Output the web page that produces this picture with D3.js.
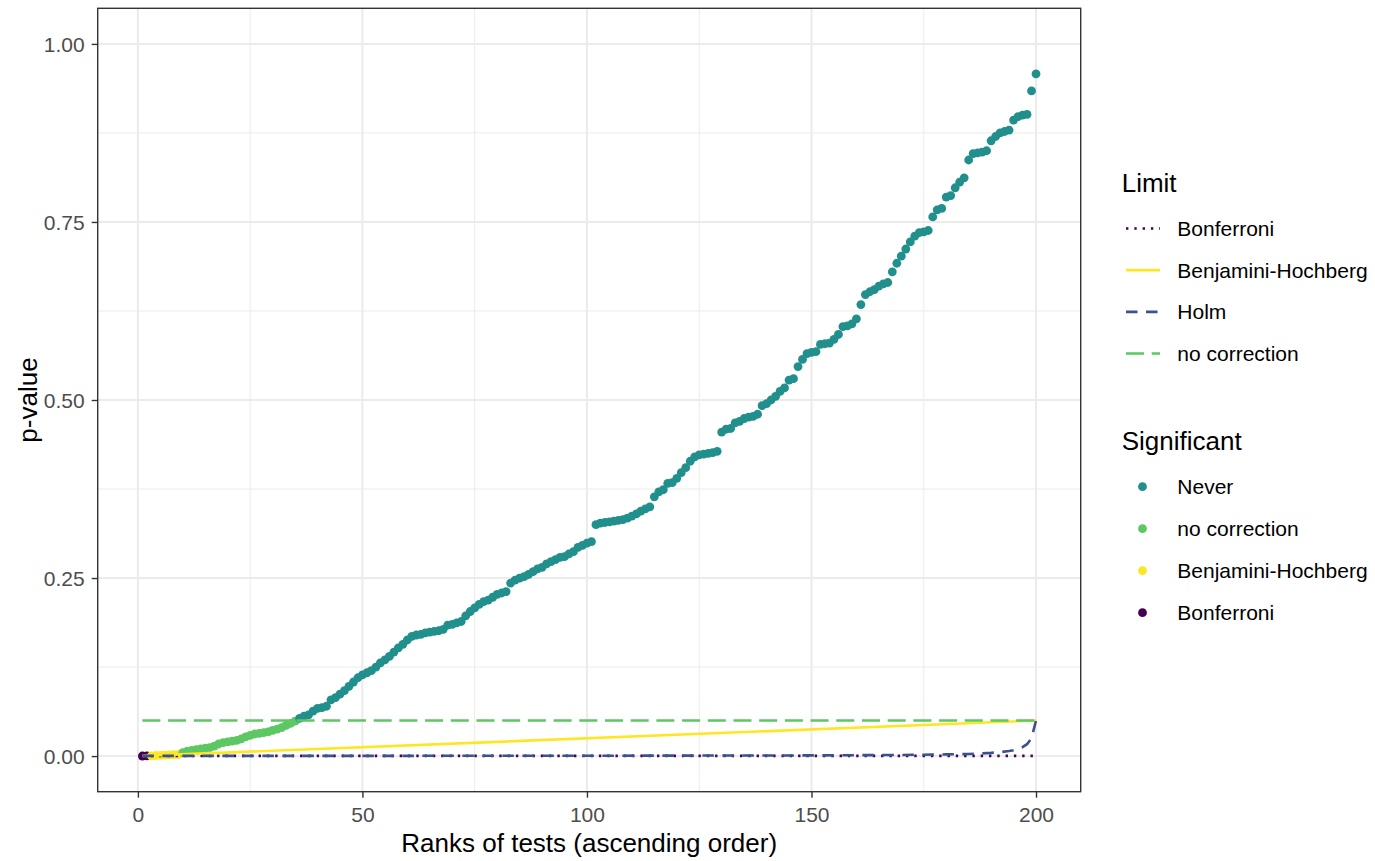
<!DOCTYPE html>
<html>
<head>
<meta charset="utf-8">
<script src="https://cdn.jsdelivr.net/npm/d3@7"></script>
<style>
  body { margin: 0; background: #fff; }
  text { font-family: "Liberation Sans", Arial, Helvetica, sans-serif; }
</style>
</head>
<body>
<div id="chart"></div>
<script>
// sorted p-values, rank 1..200
const pValues = [
  0.0001, 0.0002, 0.0004, 0.0008, 0.0011, 0.0013, 0.0016, 0.0019, 0.0022, 0.005,
  0.007, 0.008, 0.009, 0.010, 0.011, 0.012, 0.014, 0.017, 0.019, 0.020,
  0.021, 0.022, 0.024, 0.027, 0.029, 0.031, 0.032, 0.033, 0.034, 0.036,
  0.038, 0.040, 0.043, 0.046, 0.049, 0.053, 0.056, 0.058, 0.063, 0.067,
  0.068, 0.070, 0.079, 0.082, 0.087, 0.092, 0.098, 0.104, 0.110, 0.114,
  0.117, 0.120, 0.125, 0.131, 0.135, 0.140, 0.146, 0.152, 0.157, 0.163,
  0.168, 0.170, 0.171, 0.173, 0.174, 0.175, 0.176, 0.178, 0.184, 0.185,
  0.187, 0.189, 0.197, 0.203, 0.208, 0.213, 0.217, 0.219, 0.223, 0.227,
  0.229, 0.231, 0.243, 0.247, 0.250, 0.252, 0.255, 0.259, 0.263, 0.265,
  0.270, 0.273, 0.276, 0.279, 0.280, 0.284, 0.287, 0.293, 0.296, 0.299,
  0.301, 0.325, 0.327, 0.328, 0.329, 0.330, 0.331, 0.332, 0.334, 0.337,
  0.340, 0.344, 0.347, 0.350, 0.364, 0.371, 0.374, 0.383, 0.384, 0.390,
  0.398, 0.405, 0.414, 0.420, 0.423, 0.424, 0.425, 0.426, 0.428, 0.455,
  0.459, 0.460, 0.468, 0.470, 0.474, 0.476, 0.477, 0.480, 0.492, 0.495,
  0.500, 0.505, 0.512, 0.517, 0.528, 0.530, 0.547, 0.557, 0.565, 0.567,
  0.568, 0.578, 0.579, 0.580, 0.585, 0.592, 0.603, 0.604, 0.607, 0.614,
  0.634, 0.648, 0.652, 0.655, 0.660, 0.663, 0.665, 0.680, 0.692, 0.702,
  0.712, 0.722, 0.730, 0.735, 0.736, 0.738, 0.757, 0.767, 0.769, 0.785,
  0.787, 0.798, 0.806, 0.812, 0.837, 0.846, 0.847, 0.848, 0.850, 0.864,
  0.870, 0.875, 0.877, 0.879, 0.893, 0.898, 0.900, 0.901, 0.934, 0.958
];

// significance group of each rank, as coloured in the picture
const bonferroniCount = 2;    // ranks 1-2
const bhCount = 9;            // ranks 3-9
const noCorrectionCount = 35; // ranks 10-35

// limit lines
const bonfRanks = [1, 200];
const bonfLimit = [0.00025, 0.00025];
const bhRanks = [1, 200];
const bhLimit = [0.00025, 0.05];
const holmRanks = [1, 50, 100, 150, 170, 180, 185, 188, 190, 192, 194, 195, 196, 197, 198, 199, 200];
const holmLimit = [0.00025, 0.00033, 0.0005, 0.00096, 0.0016, 0.0024, 0.0029, 0.0038, 0.0045, 0.0056, 0.0071, 0.0083, 0.010, 0.0125, 0.0167, 0.025, 0.05];
const noCorrRanks = [1, 200];
const noCorrLimit = [0.05, 0.05];

const xTicks = [0, 50, 100, 150, 200];
const xMinor = [25, 75, 125, 175];
const yTicks = [0, 0.25, 0.5, 0.75, 1];
const yMinor = [0.125, 0.375, 0.625, 0.875];

const limitNames = ["Bonferroni", "Benjamini-Hochberg", "Holm", "no correction"];
const sigNames = ["Never", "no correction", "Benjamini-Hochberg", "Bonferroni"];

const COLORS = {
  "Bonferroni": "#440154",
  "Holm": "#3B528B",
  "Never": "#21908C",
  "no correction": "#5DC863",
  "Benjamini-Hochberg": "#FDE725"
};
const DASH = {
  "Bonferroni": "2.4,5.9",
  "Benjamini-Hochberg": null,
  "Holm": "11.5,8.5",
  "no correction": "18,7.7"
};
const LINE_W = 2.6;
const PT_R = 4.4;

const W = 1375, H = 861;
const PANEL = { LEFT: 97.7, RIGHT: 1080.7, TOP: 8.3, BOTTOM: 791.7 };

const svg = d3.select("#chart")
  .append("svg")
    .attr("width", W)
    .attr("height", H);

const x = d3.scaleLinear()
  .domain([1 - 199 * 0.05, 200 + 199 * 0.05]) // ggplot 5% expansion
  .range([PANEL.LEFT, PANEL.RIGHT]);

const y = d3.scaleLinear()
  .domain([-0.05, 1.05])
  .range([PANEL.BOTTOM, PANEL.TOP]);

const points = pValues.map((p, i) => {
  const rank = i + 1;
  let group = "Never";
  if (rank <= bonferroniCount) group = "Bonferroni";
  else if (rank <= bhCount) group = "Benjamini-Hochberg";
  else if (rank <= noCorrectionCount) group = "no correction";
  return { rank, p, group };
});

// grid
const grid = svg.append("g");
grid.selectAll(".xminor").data(xMinor).enter().append("line")
  .attr("x1", d => x(d)).attr("x2", d => x(d))
  .attr("y1", PANEL.TOP).attr("y2", PANEL.BOTTOM)
  .attr("stroke", "#EBEBEB").attr("stroke-width", 1);
grid.selectAll(".yminor").data(yMinor).enter().append("line")
  .attr("y1", d => y(d)).attr("y2", d => y(d))
  .attr("x1", PANEL.LEFT).attr("x2", PANEL.RIGHT)
  .attr("stroke", "#EBEBEB").attr("stroke-width", 1);
grid.selectAll(".xmajor").data(xTicks).enter().append("line")
  .attr("x1", d => x(d)).attr("x2", d => x(d))
  .attr("y1", PANEL.TOP).attr("y2", PANEL.BOTTOM)
  .attr("stroke", "#EBEBEB").attr("stroke-width", 2);
grid.selectAll(".ymajor").data(yTicks).enter().append("line")
  .attr("y1", d => y(d)).attr("y2", d => y(d))
  .attr("x1", PANEL.LEFT).attr("x2", PANEL.RIGHT)
  .attr("stroke", "#EBEBEB").attr("stroke-width", 2);

// points
svg.append("g").selectAll("circle")
  .data(points)
  .enter().append("circle")
    .attr("cx", d => x(d.rank))
    .attr("cy", d => y(d.p))
    .attr("r", PT_R)
    .attr("fill", d => COLORS[d.group]);

// limit lines
const line = d3.line().x(d => x(d[0])).y(d => y(d[1]));
const limits = [
  { name: "Bonferroni", ranks: bonfRanks, vals: bonfLimit },
  { name: "Benjamini-Hochberg", ranks: bhRanks, vals: bhLimit },
  { name: "Holm", ranks: holmRanks, vals: holmLimit },
  { name: "no correction", ranks: noCorrRanks, vals: noCorrLimit }
];
svg.append("g").selectAll("path")
  .data(limits)
  .enter().append("path")
    .attr("d", d => line(d.ranks.map((r, i) => [r, d.vals[i]])))
    .attr("fill", "none")
    .attr("stroke", d => COLORS[d.name])
    .attr("stroke-width", LINE_W)
    .attr("stroke-dasharray", d => DASH[d.name]);

// panel border
svg.append("rect")
  .attr("x", PANEL.LEFT).attr("y", PANEL.TOP)
  .attr("width", PANEL.RIGHT - PANEL.LEFT)
  .attr("height", PANEL.BOTTOM - PANEL.TOP)
  .attr("fill", "none")
  .attr("stroke", "#333333")
  .attr("stroke-width", 1.4);

// axes
const xAxis = svg.append("g")
  .attr("transform", `translate(0, ${PANEL.BOTTOM})`)
  .call(d3.axisBottom(x).tickValues(xTicks).tickSize(6).tickPadding(6).tickFormat(d3.format("d")));
const yAxis = svg.append("g")
  .attr("transform", `translate(${PANEL.LEFT}, 0)`)
  .call(d3.axisLeft(y).tickValues(yTicks).tickSize(6).tickPadding(7).tickFormat(d3.format(".2f")));
[xAxis, yAxis].forEach(a => {
  a.select(".domain").remove();
  a.selectAll(".tick line").attr("stroke", "#333333").attr("stroke-width", 1.4);
  a.selectAll(".tick text")
    .attr("fill", "#4D4D4D")
    .style("font-size", "21px")
    .style("font-family", "'Liberation Sans', Arial, sans-serif");
});
xAxis.selectAll(".tick text").attr("dy", null).attr("y", 30);
yAxis.selectAll(".tick text").attr("dy", "0.36em");

svg.append("text")
  .attr("x", (PANEL.LEFT + PANEL.RIGHT) / 2)
  .attr("y", 852)
  .attr("text-anchor", "middle")
  .style("font-size", "26px")
  .attr("fill", "#000")
  .text("Ranks of tests (ascending order)");

svg.append("text")
  .attr("transform", `translate(37, ${(PANEL.TOP + PANEL.BOTTOM) / 2}) rotate(-90)`)
  .attr("text-anchor", "middle")
  .style("font-size", "26px")
  .attr("fill", "#000")
  .text("p-value");

// legends
const LEG_X = 1121.7;
const KEY_X1 = 1126, KEY_X2 = 1160, LABEL_X = 1177.3;

const leg1 = svg.append("g");
leg1.append("text").attr("x", LEG_X).attr("y", 191.7)
  .style("font-size", "26px").attr("fill", "#000").text("Limit");
const limitY = d3.scalePoint().domain(limitNames).range([228.5, 353.5]);
leg1.selectAll("line").data(limitNames).enter().append("line")
  .attr("x1", KEY_X1).attr("x2", KEY_X2)
  .attr("y1", d => limitY(d)).attr("y2", d => limitY(d))
  .attr("stroke", d => COLORS[d])
  .attr("stroke-width", LINE_W)
  .attr("stroke-dasharray", d => DASH[d]);
leg1.selectAll(".lab").data(limitNames).enter().append("text")
  .attr("x", LABEL_X).attr("y", d => limitY(d) + 7.6)
  .style("font-size", "21px").attr("fill", "#000")
  .text(d => d);

const leg2 = svg.append("g");
leg2.append("text").attr("x", LEG_X).attr("y", 450)
  .style("font-size", "26px").attr("fill", "#000").text("Significant");
const sigY = d3.scalePoint().domain(sigNames).range([486.7, 612.7]);
leg2.selectAll("circle").data(sigNames).enter().append("circle")
  .attr("cx", 1142.5).attr("cy", d => sigY(d))
  .attr("r", PT_R)
  .attr("fill", d => COLORS[d]);
leg2.selectAll(".lab").data(sigNames).enter().append("text")
  .attr("x", LABEL_X).attr("y", d => sigY(d) + 7.6)
  .style("font-size", "21px").attr("fill", "#000")
  .text(d => d);
</script>
</body>
</html>
